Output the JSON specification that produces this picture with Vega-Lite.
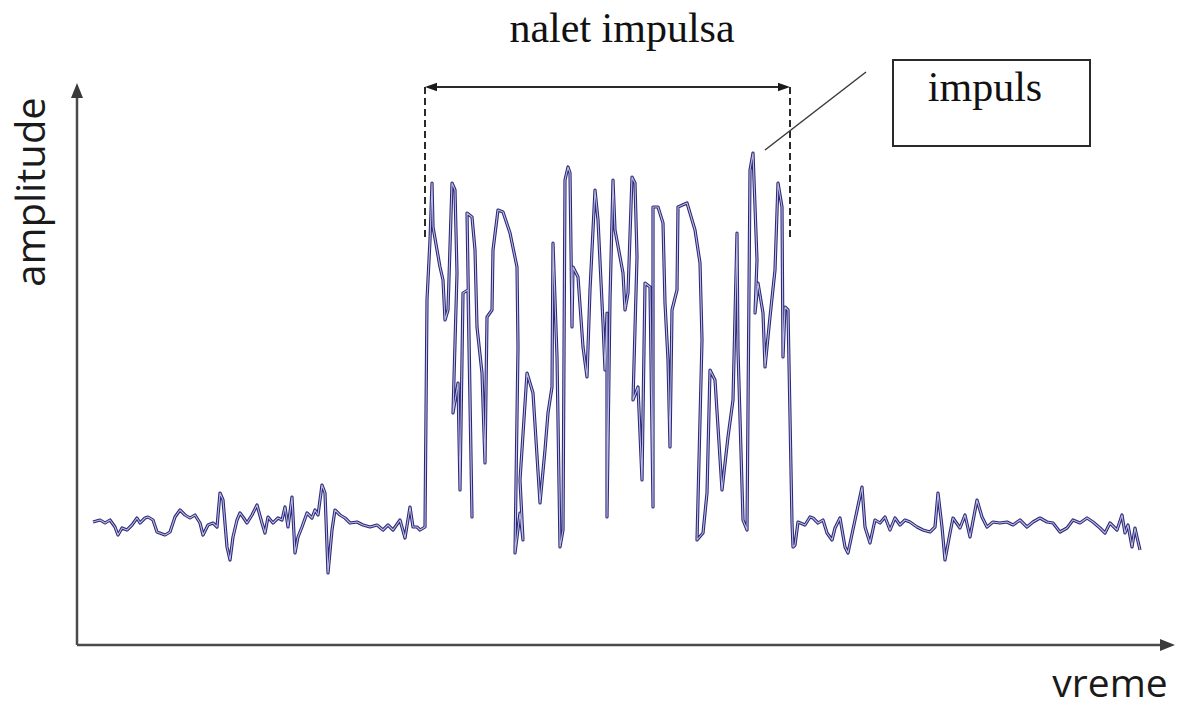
{
  "$schema": "https://vega.github.io/schema/vega-lite/v6.json",
  "width": 1180,
  "height": 707,
  "autosize": {"type": "fit", "contains": "padding"},
  "padding": 0,
  "background": "white",
  "config": {"view": {"stroke": null}},
  "datasets": {
    "sig": [
      {"t":16,"a":123},{"t":23,"a":125},{"t":28,"a":122},{"t":33,"a":125},{"t":38,"a":118},{"t":41,"a":110},{"t":45,"a":117},{"t":50,"a":115},{"t":55,"a":120},{"t":60,"a":127},{"t":63,"a":122},{"t":68,"a":127},{"t":71,"a":128},{"t":76,"a":125},{"t":80,"a":113},{"t":88,"a":110},{"t":93,"a":113},{"t":98,"a":128},{"t":103,"a":135},{"t":108,"a":130},{"t":113,"a":127},{"t":118,"a":130},{"t":123,"a":122},{"t":126,"a":110},{"t":131,"a":120},{"t":136,"a":122},{"t":140,"a":118},{"t":143,"a":152},{"t":146,"a":145},{"t":150,"a":98},{"t":153,"a":85},{"t":156,"a":108},{"t":160,"a":125},{"t":163,"a":132},{"t":166,"a":128},{"t":170,"a":122},{"t":175,"a":130},{"t":180,"a":140},{"t":185,"a":122},{"t":188,"a":112},{"t":191,"a":128},{"t":196,"a":122},{"t":201,"a":127},{"t":205,"a":125},{"t":208,"a":138},{"t":211,"a":118},{"t":215,"a":148},{"t":218,"a":92},{"t":221,"a":108},{"t":225,"a":118},{"t":230,"a":132},{"t":235,"a":127},{"t":238,"a":135},{"t":241,"a":130},{"t":245,"a":160},{"t":248,"a":152},{"t":251,"a":72},{"t":255,"a":115},{"t":258,"a":135},{"t":263,"a":130},{"t":268,"a":127},{"t":273,"a":122},{"t":280,"a":123},{"t":286,"a":120},{"t":293,"a":118},{"t":300,"a":120},{"t":306,"a":115},{"t":311,"a":120},{"t":316,"a":115},{"t":323,"a":125},{"t":328,"a":107},{"t":333,"a":138},{"t":336,"a":118},{"t":340,"a":118},{"t":343,"a":115},{"t":348,"a":118},
      {"t":350,"a":345},{"t":353,"a":405},{"t":355,"a":462},{"t":356,"a":418},{"t":363,"a":378},{"t":366,"a":365},{"t":368,"a":325},{"t":371,"a":335},{"t":375,"a":462},{"t":378,"a":455},{"t":380,"a":372},{"t":376,"a":232},{"t":381,"a":262},{"t":383,"a":155},{"t":386,"a":352},{"t":391,"a":355},{"t":395,"a":128},{"t":390,"a":432},{"t":395,"a":428},{"t":398,"a":395},{"t":400,"a":318},{"t":405,"a":272},{"t":408,"a":182},{"t":410,"a":328},{"t":415,"a":335},{"t":416,"a":395},{"t":421,"a":435},{"t":426,"a":433},{"t":433,"a":412},{"t":440,"a":378},{"t":441,"a":298},{"t":438,"a":92},{"t":443,"a":132},{"t":446,"a":105},{"t":443,"a":165},{"t":450,"a":272},{"t":456,"a":252},{"t":463,"a":142},{"t":468,"a":195},{"t":471,"a":232},{"t":475,"a":258},{"t":476,"a":402},{"t":480,"a":288},{"t":483,"a":98},{"t":486,"a":115},{"t":488,"a":465},{"t":491,"a":478},{"t":493,"a":472},{"t":495,"a":318},{"t":496,"a":378},{"t":501,"a":368},{"t":506,"a":298},{"t":510,"a":268},{"t":513,"a":355},{"t":518,"a":455},{"t":521,"a":425},{"t":526,"a":322},{"t":528,"a":275},{"t":530,"a":332},{"t":530,"a":128},{"t":533,"a":345},{"t":536,"a":465},{"t":538,"a":415},{"t":546,"a":372},{"t":548,"a":335},{"t":551,"a":352},{"t":555,"a":468},{"t":558,"a":462},{"t":560,"a":388},{"t":556,"a":245},{"t":561,"a":258},{"t":565,"a":165},{"t":568,"a":362},{"t":573,"a":358},{"t":576,"a":138},{"t":576,"a":438},{"t":581,"a":438},{"t":586,"a":422},{"t":588,"a":342},{"t":591,"a":285},{"t":593,"a":198},{"t":595,"a":335},{"t":600,"a":355},{"t":601,"a":438},{"t":610,"a":442},{"t":618,"a":415},{"t":623,"a":382},{"t":625,"a":305},{"t":620,"a":105},{"t":626,"a":112},{"t":630,"a":152},{"t":633,"a":275},{"t":638,"a":265},{"t":645,"a":155},{"t":651,"a":208},{"t":656,"a":245},{"t":660,"a":412},{"t":661,"a":295},{"t":666,"a":125},{"t":670,"a":115},{"t":673,"a":475},{"t":676,"a":492},{"t":680,"a":385},{"t":678,"a":332},{"t":681,"a":362},{"t":686,"a":332},{"t":688,"a":278},{"t":693,"a":328},{"t":698,"a":375},{"t":701,"a":462},{"t":705,"a":438},{"t":706,"a":288},{"t":708,"a":338},{"t":711,"a":335},{"t":715,"a":122},{"t":716,"a":98},{"t":718,"a":100},
      {"t":721,"a":123},{"t":728,"a":120},{"t":733,"a":128},{"t":736,"a":127},{"t":741,"a":122},{"t":746,"a":125},{"t":750,"a":112},{"t":755,"a":105},{"t":758,"a":117},{"t":763,"a":127},{"t":768,"a":98},{"t":771,"a":92},{"t":778,"a":125},{"t":785,"a":158},{"t":788,"a":118},{"t":793,"a":102},{"t":798,"a":125},{"t":803,"a":122},{"t":808,"a":128},{"t":813,"a":115},{"t":818,"a":127},{"t":823,"a":120},{"t":828,"a":125},{"t":833,"a":123},{"t":840,"a":118},{"t":846,"a":115},{"t":853,"a":113},{"t":858,"a":118},{"t":861,"a":152},{"t":865,"a":118},{"t":868,"a":85},{"t":873,"a":112},{"t":876,"a":127},{"t":883,"a":117},{"t":888,"a":130},{"t":893,"a":108},{"t":900,"a":145},{"t":905,"a":128},{"t":910,"a":118},{"t":916,"a":123},{"t":923,"a":122},{"t":930,"a":123},{"t":936,"a":120},{"t":943,"a":125},{"t":950,"a":118},{"t":956,"a":123},{"t":963,"a":127},{"t":970,"a":123},{"t":976,"a":122},{"t":983,"a":113},{"t":990,"a":117},{"t":996,"a":125},{"t":1003,"a":122},{"t":1010,"a":127},{"t":1016,"a":123},{"t":1023,"a":117},{"t":1028,"a":112},{"t":1033,"a":122},{"t":1040,"a":115},{"t":1045,"a":130},{"t":1048,"a":112},{"t":1051,"a":120},{"t":1055,"a":98},{"t":1058,"a":117},{"t":1060,"a":108},{"t":1063,"a":95}
    ],
    "axes": [
      {"t":0,"a":0,"t2":0,"a2":556},
      {"t":0,"a":0,"t2":1092,"a2":0}
    ],
    "span": [{"t":354,"a":558,"t2":707,"a2":558}],
    "dash": [
      {"t":348,"a":558,"t2":348,"a2":405},
      {"t":713,"a":558,"t2":713,"a2":405}
    ],
    "leader": [{"t":688,"a":495,"t2":789,"a2":573}],
    "box": [{"t":816,"a":585,"t2":1013,"a2":499}],
    "serif": [
      {"t":545,"a":603,"label":"nalet impulsa"},
      {"t":908,"a":544,"label":"impuls"}
    ],
    "ylab": [{"t":-32,"a":453,"label":"amplitude"}],
    "xlab": [{"t":1033,"a":-52,"label":"vreme"}]
  },
  "encoding": {
    "x": {"field":"t","type":"quantitative","scale":{"domain":[-77,1103],"nice":false,"zero":false},"axis":null},
    "y": {"field":"a","type":"quantitative","scale":{"domain":[-62,645],"nice":false,"zero":false},"axis":null}
  },
  "layer": [
    {"data":{"name":"sig"},"mark":{"type":"line","stroke":"#2b2878","strokeWidth":3.2,"strokeJoin":"round"},"encoding":{"order":{"value":null}}},
    {"data":{"name":"sig"},"mark":{"type":"line","stroke":"#bcbce0","strokeWidth":1.1,"strokeJoin":"round"},"encoding":{"order":{"value":null}}},
    {"data":{"name":"axes"},"mark":{"type":"rule","stroke":"#4a4a4a","strokeWidth":2.5},"encoding":{"x2":{"field":"t2"},"y2":{"field":"a2"}}},
    {"data":{"values":[{"t":0,"a":562}]},"mark":{"type":"point","shape":"M0,0L-0.8,2L0.8,2Z","size":225,"filled":true,"fill":"#3a3a3a","strokeWidth":0,"opacity":1}},
    {"data":{"values":[{"t":1098,"a":0}]},"mark":{"type":"point","shape":"M0,0L-2,-0.8L-2,0.8Z","size":225,"filled":true,"fill":"#3a3a3a","strokeWidth":0,"opacity":1}},
    {"data":{"name":"span"},"mark":{"type":"rule","stroke":"#2a2a2a","strokeWidth":2},"encoding":{"x2":{"field":"t2"},"y2":{"field":"a2"}}},
    {"data":{"values":[{"t":348,"a":558}]},"mark":{"type":"point","shape":"M0,0L2,-0.7L2,0.7Z","size":144,"filled":true,"fill":"#1a1a1a","strokeWidth":0,"opacity":1}},
    {"data":{"values":[{"t":713,"a":558}]},"mark":{"type":"point","shape":"M0,0L-2,-0.7L-2,0.7Z","size":144,"filled":true,"fill":"#1a1a1a","strokeWidth":0,"opacity":1}},
    {"data":{"name":"dash"},"mark":{"type":"rule","stroke":"#2a2a2a","strokeWidth":2,"strokeDash":[7,4]},"encoding":{"x2":{"field":"t2"},"y2":{"field":"a2"}}},
    {"data":{"name":"leader"},"mark":{"type":"rule","stroke":"#3a3a3a","strokeWidth":1.5},"encoding":{"x2":{"field":"t2"},"y2":{"field":"a2"}}},
    {"data":{"name":"box"},"mark":{"type":"rect","fill":"white","stroke":"#2a2a2a","strokeWidth":2},"encoding":{"x2":{"field":"t2"},"y2":{"field":"a2"}}},
    {"data":{"name":"serif"},"mark":{"type":"text","font":"Liberation Serif","fontSize":42,"align":"center","baseline":"alphabetic","color":"#111111"},"encoding":{"text":{"field":"label"}}},
    {"data":{"name":"ylab"},"mark":{"type":"text","font":"Open Sans","fontSize":40,"align":"center","baseline":"alphabetic","angle":270,"color":"#1a1a1a"},"encoding":{"text":{"field":"label"}}},
    {"data":{"name":"xlab"},"mark":{"type":"text","font":"Open Sans","fontSize":39,"align":"center","baseline":"alphabetic","color":"#1a1a1a"},"encoding":{"text":{"field":"label"}}}
  ]
}
